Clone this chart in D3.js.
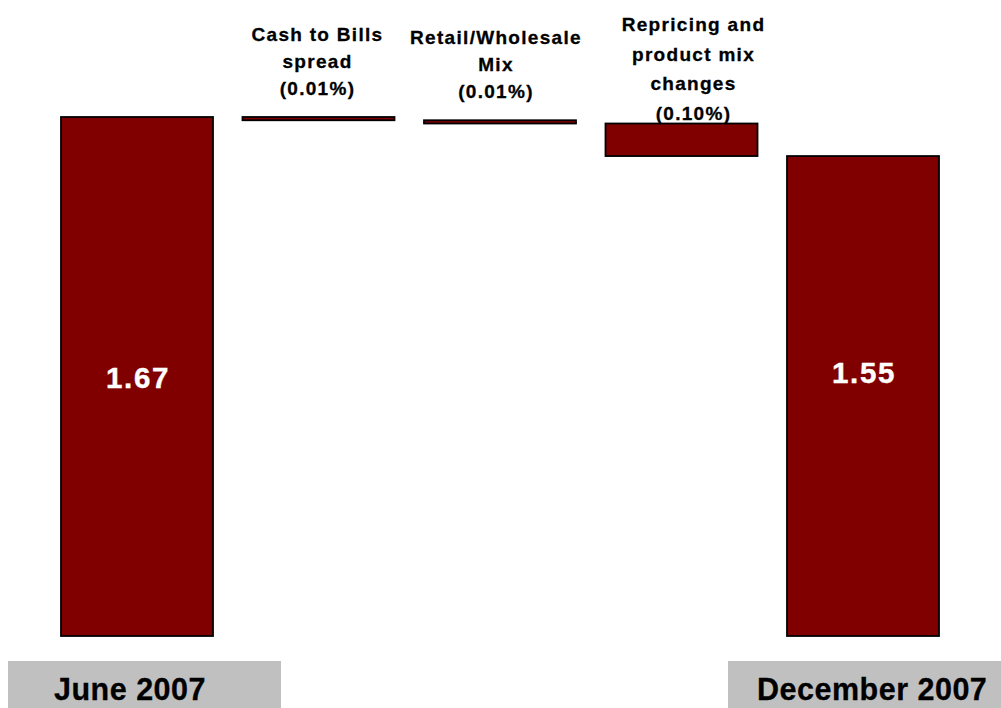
<!DOCTYPE html>
<html>
<head>
<meta charset="utf-8">
<script src="https://cdn.jsdelivr.net/npm/d3@7"></script>
<style>
  html, body { margin: 0; padding: 0; background: #ffffff; }
  svg { display: block; font-family: "Liberation Sans", Arial, sans-serif; }
</style>
</head>
<body>
<svg id="chart" width="1001" height="708"></svg>
<script>
// Net interest margin bridge, June 2007 to December 2007
const steps = ["June 2007", "Cash to Bills spread", "Retail/Wholesale Mix", "Repricing and product mix changes", "December 2007"];
const kinds = ["total", "delta", "delta", "delta", "total"];
const values = [1.67, -0.01, -0.01, -0.10, 1.55];
const stepLabels = [
  null,
  ["Cash to Bills", "spread", "(0.01%)"],
  ["Retail/Wholesale", "Mix", "(0.01%)"],
  ["Repricing and", "product mix", "changes", "(0.10%)"],
  null
];
const valueLabels = ["1.67", null, null, null, "1.55"];
const periodLabels = ["June 2007", "December 2007"];

const W = 1001, H = 708;
const plotTop = 117, plotBottom = 636;
const axisMin = 0.075;
const barFill = "#800000";

const svg = d3.select("#chart");

// running start/end of each waterfall step
let running = 0;
const bars = steps.map((s, i) => {
  let start, end;
  if (kinds[i] === "total") { start = axisMin; end = values[i]; running = values[i]; }
  else { start = running; end = running + values[i]; running = end; }
  return { step: s, i, start, end, kind: kinds[i] };
});

const x = d3.scaleBand()
  .domain(steps)
  .range([46.25, 953.75])
  .paddingInner(0.1625)
  .paddingOuter(0.08125);

const y = d3.scaleLinear()
  .domain([axisMin, d3.max(values)])
  .range([plotBottom, plotTop]);

svg.append("g")
  .selectAll("rect")
  .data(bars)
  .join("rect")
  .attr("x", d => x(d.step))
  .attr("width", x.bandwidth())
  .attr("y", d => y(Math.max(d.start, d.end)))
  .attr("height", d => Math.abs(y(d.start) - y(d.end)))
  .attr("fill", barFill)
  .attr("stroke", "#000")
  .attr("stroke-width", 1.8);

// values inside the two total bars
const valueBaselines = [388, null, null, null, 383];
svg.append("g")
  .selectAll("text")
  .data(bars.filter(d => valueLabels[d.i]))
  .join("text")
  .attr("x", d => x(d.step) + x.bandwidth() / 2 + 1)
  .attr("y", d => valueBaselines[d.i])
  .attr("text-anchor", "middle")
  .attr("fill", "#ffffff")
  .attr("stroke", "#ffffff")
  .attr("stroke-width", 0.4)
  .attr("font-weight", "bold")
  .attr("font-size", 29.5)
  .attr("letter-spacing", 1.6)
  .text(d => valueLabels[d.i]);

// step descriptions above the change bars
const labelTops = [null, 41, 44, 31, null];
const labelLead = [null, 27, 27, 29.5, null];
const labelShift = [null, -1, -4, 12, null];
bars.filter(d => stepLabels[d.i]).forEach(d => {
  const t = svg.append("text")
    .attr("text-anchor", "middle")
    .attr("font-weight", "bold")
    .attr("font-size", 19)
    .attr("letter-spacing", 1.3)
    .attr("fill", "#000")
    .attr("stroke", "#000")
    .attr("stroke-width", 0.3);
  stepLabels[d.i].forEach((line, k) => {
    t.append("tspan")
      .attr("x", x(d.step) + x.bandwidth() / 2 + labelShift[d.i])
      .attr("y", labelTops[d.i] + k * labelLead[d.i])
      .text(line);
  });
});

// period boxes along the bottom
const periodBoxes = [
  { label: periodLabels[0], x0: 8, x1: 281, tx: 54 },
  { label: periodLabels[1], x0: 728, x1: 1001, tx: 757 }
];
const pg = svg.append("g");
pg.selectAll("rect")
  .data(periodBoxes)
  .join("rect")
  .attr("x", d => d.x0)
  .attr("y", 661)
  .attr("width", d => d.x1 - d.x0)
  .attr("height", H - 661)
  .attr("fill", "#c0c0c0");
pg.selectAll("text")
  .data(periodBoxes)
  .join("text")
  .attr("x", d => d.tx)
  .attr("y", 700)
  .attr("font-weight", "bold")
  .attr("font-size", 30.5)
  .attr("letter-spacing", 0.5)
  .attr("fill", "#000")
  .attr("stroke", "#000")
  .attr("stroke-width", 0.3)
  .text(d => d.label);
</script>
</body>
</html>
